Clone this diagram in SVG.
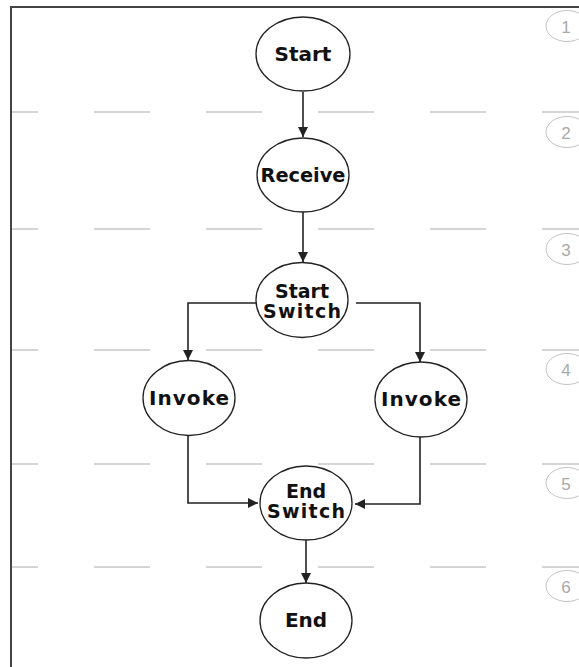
<svg xmlns="http://www.w3.org/2000/svg" width="579" height="667" viewBox="0 0 579 667">
<style>
.node{fill:#fff;stroke:#222;stroke-width:1.3}
.lbl{font-family:"DejaVu Sans",sans-serif;font-weight:bold;font-size:20px;fill:#111;text-anchor:middle}
.lbl2{font-family:"DejaVu Sans",sans-serif;font-weight:bold;font-size:19px;fill:#111;text-anchor:middle}
.lane{stroke:#c8c8c8;stroke-width:1.5;stroke-dasharray:56 56;stroke-dashoffset:30;fill:none}
.num{fill:#fff;stroke:#c4c4c4;stroke-width:1}
.numt{font-family:"Liberation Sans",sans-serif;font-size:17px;fill:#aaa;text-anchor:middle}
.conn{fill:none;stroke:#222;stroke-width:1.6}
</style>
<defs>
<marker id="arr" markerUnits="userSpaceOnUse" markerWidth="10" markerHeight="10" refX="10" refY="5" orient="auto">
<path d="M0,0 L10,5 L0,10 z" fill="#222"/>
</marker>
</defs>
<rect width="579" height="667" fill="#fff"/>
<g id="frame">
<line x1="11" y1="7" x2="579" y2="7" stroke="#444" stroke-width="2"/>
<line x1="11" y1="6" x2="11" y2="667" stroke="#444" stroke-width="2"/>
</g>
<g id="lanes">
<line class="lane" x1="12" y1="112" x2="579" y2="112"/>
<line class="lane" x1="12" y1="229" x2="579" y2="229"/>
<line class="lane" x1="12" y1="350" x2="579" y2="350"/>
<line class="lane" x1="12" y1="464" x2="579" y2="464"/>
<line class="lane" x1="12" y1="567" x2="579" y2="567"/>
</g>
<g id="rownums">
<ellipse class="num" cx="567" cy="26" rx="21" ry="15.5"/><text class="numt" x="566" y="33">1</text>
<ellipse class="num" cx="567" cy="132" rx="21" ry="15.5"/><text class="numt" x="566" y="139">2</text>
<ellipse class="num" cx="567" cy="249" rx="21" ry="15.5"/><text class="numt" x="566" y="256">3</text>
<ellipse class="num" cx="567" cy="369" rx="21" ry="15.5"/><text class="numt" x="566" y="376">4</text>
<ellipse class="num" cx="567" cy="483" rx="21" ry="15.5"/><text class="numt" x="566" y="490">5</text>
<ellipse class="num" cx="567" cy="586" rx="21" ry="15.5"/><text class="numt" x="566" y="593">6</text>
</g>
<g id="connectors">
<path class="conn" d="M303,92 V137" marker-end="url(#arr)"/>
<path class="conn" d="M303,212 V262" marker-end="url(#arr)"/>
<path class="conn" d="M257,303 H188 V360" marker-end="url(#arr)"/>
<path class="conn" d="M356,303 H420 V362" marker-end="url(#arr)"/>
<path class="conn" d="M188,435 V503 H258" marker-end="url(#arr)"/>
<path class="conn" d="M420,437 V504 H355" marker-end="url(#arr)"/>
<path class="conn" d="M306,540 V583" marker-end="url(#arr)"/>
</g>
<g id="start"><ellipse class="node" cx="303" cy="54" rx="47" ry="37"/><text class="lbl" x="303" y="61">Start</text></g>
<g id="receive"><ellipse class="node" cx="303" cy="175" rx="46" ry="37"/><text class="lbl" x="303" y="182" textLength="85" lengthAdjust="spacingAndGlyphs">Receive</text></g>
<g id="startswitch"><ellipse class="node" cx="302" cy="300" rx="46" ry="37.5"/><text class="lbl2" x="302" y="298">Start</text><text class="lbl2" x="302" y="318" textLength="78" lengthAdjust="spacing">Switch</text></g>
<g id="invoke1"><ellipse class="node" cx="189" cy="398" rx="46" ry="37.5"/><text class="lbl" x="189" y="405" textLength="80" lengthAdjust="spacing">Invoke</text></g>
<g id="invoke2"><ellipse class="node" cx="421" cy="399.5" rx="46" ry="37.5"/><text class="lbl" x="421" y="406" textLength="80" lengthAdjust="spacing">Invoke</text></g>
<g id="endswitch"><ellipse class="node" cx="306" cy="503" rx="46" ry="37"/><text class="lbl2" x="306" y="498">End</text><text class="lbl2" x="306" y="518" textLength="78" lengthAdjust="spacing">Switch</text></g>
<g id="end"><ellipse class="node" cx="306" cy="620.5" rx="46" ry="37.5"/><text class="lbl" x="306" y="627">End</text></g>
</svg>
